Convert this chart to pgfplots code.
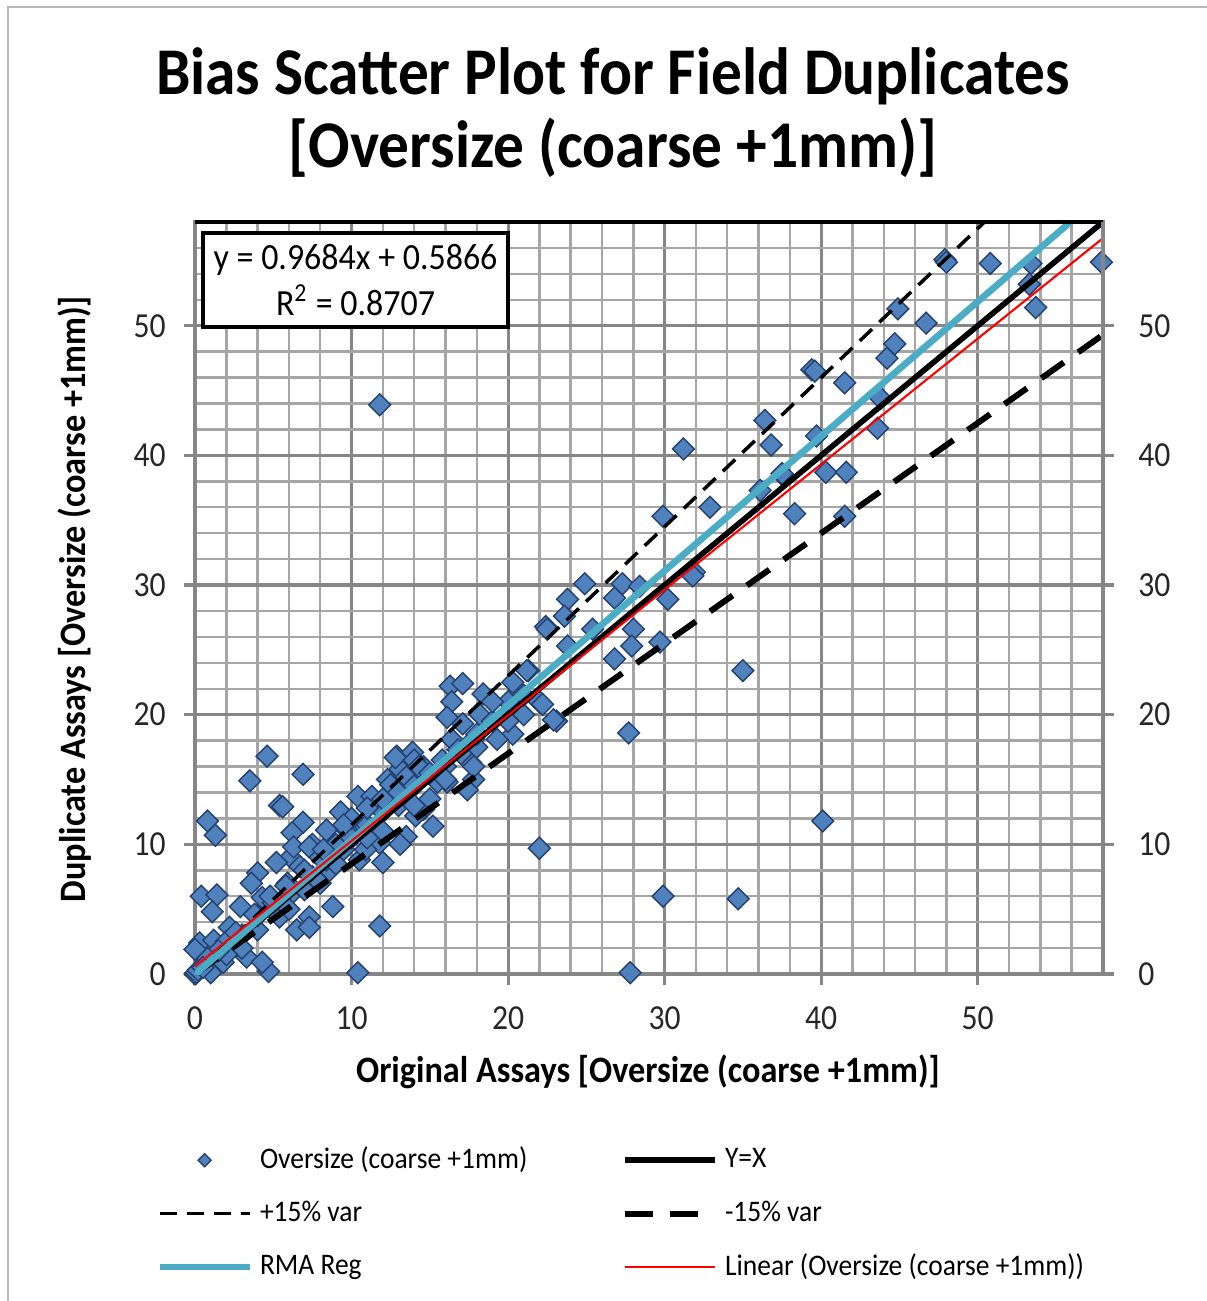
\documentclass[border=0pt]{standalone}
\usepackage{pgfplots}
\pgfplotsset{compat=1.18}
\usepackage{pgfplotstable}
\usepackage{fontspec}
\setmainfont{Carlito}
\definecolor{mk}{HTML}{4F81BD}
\definecolor{mkb}{HTML}{24406E}
\definecolor{rma}{HTML}{4BACC6}
\definecolor{gridc}{HTML}{A6A6A6}
\definecolor{gridm}{HTML}{868686}
\pgfplotsset{linelegend/.style={legend image code/.code={\draw[##1] (0cm,0cm) -- (0.9cm,0cm);}}}
\newcommand{\sx}[1]{\scalebox{0.92}[1]{#1}}
\newcommand{\tx}[1]{\scalebox{0.9}[1]{#1}}

\pgfplotstableread{
x y
11.8 43.9
4.6 16.8
3.5 14.9
6.9 15.4
5.4 13.0
0.8 11.8
1.3 10.7
10.4 0.1
11.8 3.7
4.7 0.2
27.8 0.1
29.9 6.0
34.7 5.8
40.1 11.8
22.0 9.7
27.7 18.6
35.0 23.4
31.2 40.5
36.4 42.7
36.8 40.8
39.4 46.6
39.6 46.5
39.7 41.5
40.3 38.7
41.6 38.7
41.5 45.6
41.5 35.3
38.3 35.5
37.6 38.4
37.5 38.6
36.1 37.3
32.9 36.0
29.9 35.3
43.6 42.1
43.8 44.4
44.2 47.5
44.7 48.6
44.9 51.3
46.7 50.2
47.9 55.1
48.0 54.9
50.8 54.8
53.4 54.8
53.3 53.2
53.7 51.4
57.9 54.9
31.9 31.0
31.8 30.7
24.9 30.1
23.8 28.9
23.6 27.6
22.4 26.8
22.5 26.6
27.3 30.1
26.8 29.0
28.4 29.9
30.2 28.9
28.0 26.6
27.9 25.3
29.7 25.6
26.8 24.3
23.8 25.3
25.4 26.6
21.3 23.4
20.3 22.5
22.0 21.0
23.1 19.5
22.9 19.6
22.2 20.8
20.3 18.5
19.3 18.1
21.2 23.4
16.3 22.2
17.1 22.4
16.4 21.0
18.4 21.6
16.1 19.8
17.1 19.3
18.2 20.0
17.8 18.1
16.4 18.1
12.9 16.8
13.9 17.1
14.6 16.0
13.1 15.8
15.8 16.5
17.6 16.3
17.8 15.0
16.1 14.8
12.3 15.0
12.8 16.7
14.0 16.5
13.5 15.2
14.3 16.0
15.5 14.8
10.4 13.7
11.3 13.7
12.5 14.6
9.3 12.5
5.6 12.9
6.9 11.7
6.2 10.9
8.4 11.1
7.5 10.0
14.6 12.7
15.2 11.4
14.1 12.2
13.5 10.6
13.1 10.0
11.8 10.1
12.0 8.6
17.4 14.2
17.8 16.0
16.8 17.3
10.5 11.1
9.7 11.1
6.1 9.0
6.7 8.3
8.6 8.0
4.0 7.8
5.2 8.6
3.6 7.0
0.4 6.0
1.4 6.1
1.1 4.8
2.9 5.2
4.3 5.9
5.9 7.0
6.3 9.8
7.3 9.8
7.5 7.5
8.8 5.2
7.3 4.4
5.4 4.4
4.0 3.4
2.2 3.6
0.3 2.4
0.0 1.9
1.2 2.6
3.3 1.3
4.3 0.9
1.8 0.9
1.0 0.1
6.5 3.4
7.3 3.6
8.4 8.8
9.5 9.6
10.5 8.8
10.9 9.6
0.0 0.0
0.1 0.1
0.2 0.3
2.0 2.5
3.0 3.0
5.0 5.5
6.0 6.0
7.0 6.5
8.0 9.0
9.0 8.5
10.0 10.5
11.0 11.5
12.0 12.5
13.0 13.0
14.0 14.5
15.0 15.5
16.0 16.0
18.0 17.5
19.0 19.5
20.0 21.0
21.0 20.0
9.0 10.0
8.0 7.0
6.0 5.0
4.0 4.5
3.0 2.0
2.0 1.5
10.0 12.0
11.0 10.5
12.0 11.0
14.0 13.0
15.0 13.5
19.0 21.0
20.0 19.5
21.0 21.5
18.0 18.5
17.0 17.0
16.0 15.0
13.0 14.0
12.0 13.5
11.0 12.8
9.5 11.5
8.2 9.6
7.0 8.0
5.8 6.8
4.8 6.0
3.8 4.6
2.6 3.2
1.5 1.8
0.8 1.2
0.5 0.5
}\dup

\begin{document}
\begin{tikzpicture}
\path[use as bounding box] (0,0) rectangle (12.07,13.01);
\draw[gray!55, line width=0.8pt] (0.08,0) -- (0.08,12.94) -- (12.07,12.94);
\node[font=\bfseries\fontsize{19}{23}\selectfont] at (6.13,12.25) {\sx{Bias Scatter Plot for Field Duplicates}};
\node[font=\bfseries\fontsize{19}{23}\selectfont] at (6.13,11.53) {\sx{[Oversize (coarse +1mm)]}};
\node[font=\bfseries\fontsize{10.6}{13}\selectfont] at (6.48,2.29) {\sx{Original Assays [Oversize (coarse +1mm)]}};
\node[font=\bfseries\fontsize{10.6}{13}\selectfont, rotate=90] at (0.75,7.02) {\sx{Duplicate Assays [Oversize (coarse +1mm)]}};

\begin{axis}[
  at={(1.95cm,3.27cm)}, anchor=origin,
  scale only axis, width=9.08cm, height=7.52cm,
  xmin=0, xmax=58, ymin=0, ymax=58,
  xtick={0,10,...,50}, ytick={0,10,...,50},
  xticklabels={\tx{0},\tx{10},\tx{20},\tx{30},\tx{40},\tx{50}},
  yticklabels={\tx{0},\tx{10},\tx{20},\tx{30},\tx{40},\tx{50}},
  minor xtick={2,4,...,56}, minor ytick={2,4,...,56},
  grid=both,
  major grid style={gridm, line width=0.9pt},
  minor grid style={gridc, line width=0.7pt},
  axis line style={gridm, line width=0.9pt},
  tick align=outside, xtick pos=bottom, ytick pos=left,
  major tick length=1.1mm, minor tick length=0pt,
  tick style={gridm, line width=0.9pt},
  tick label style={font=\fontsize{10}{12}\selectfont, text=black!85},
  xticklabel style={yshift=-0.9mm},
  yticklabel style={xshift=-0.6mm},
  clip mode=individual,
  legend columns=2,
  legend style={at={(-0.055,-0.21)}, anchor=north west, draw=none, fill=none,
    font=\fontsize{8.5}{10}\selectfont, row sep=1.3mm,
    /tikz/every even column/.append style={column sep=0pt}},
  legend cell align=left,
]
\addplot[only marks, mark=square*, mark size=2.2pt, mark options={rotate=45, fill=mk, draw=mkb, line width=0.4pt},
  legend image code/.code={\draw[##1, mark size=1.3pt] plot coordinates {(0.45cm,0cm)};}] table[x=x,y=y] {\dup};
\addlegendentry{\makebox[3.55cm][l]{\sx{Oversize (coarse +1mm)}}}
\addplot[black, line width=1.6pt, linelegend] coordinates {(0,0) (58,58)};
\addlegendentry{\sx{Y=X}}
\addplot[black, line width=1.0pt, dash pattern=on 1.7mm off 1.0mm, linelegend] coordinates {(0,0) (58,66.7)};
\addlegendentry{\makebox[3.55cm][l]{\sx{+15\% var}}}
\addplot[black, line width=1.7pt, dash pattern=on 2.75mm off 1.75mm, linelegend] coordinates {(0,0) (58,49.3)};
\addlegendentry{\sx{-15\% var}}
\addplot[rma, line width=1.9pt, linelegend] coordinates {(0,-0.03) (58,60.16)};
\addlegendentry{\makebox[3.55cm][l]{\sx{RMA Reg}}}
\addplot[red, line width=0.6pt, linelegend] coordinates {(0,0.5866) (58,56.754)};
\addlegendentry{\sx{Linear (Oversize (coarse +1mm))}}
\draw[black, line width=1.2pt] (axis cs:0,58) -- (axis cs:58,58);
\node[draw=black, line width=1pt, fill=white, align=center, minimum width=3.05cm, minimum height=0.94cm, inner sep=1pt, font=\fontsize{10.5}{13}\selectfont] at (rel axis cs:0.1768,0.923) {\sx{y = 0.9684x + 0.5866}\\\sx{R\textsuperscript{2} = 0.8707}};
\end{axis}
\begin{axis}[
  at={(1.95cm,3.27cm)}, anchor=origin,
  scale only axis, width=9.08cm, height=7.52cm,
  xmin=0, xmax=58, ymin=0, ymax=58,
  axis x line=none, axis y line*=right,
  ytick={0,10,...,50},
  yticklabels={\tx{0},\tx{10},\tx{20},\tx{30},\tx{40},\tx{50}},
  axis line style={gridm, line width=0.9pt},
  tick align=outside,
  major tick length=1.1mm,
  tick style={gridm, line width=0.9pt},
  tick label style={font=\fontsize{10}{12}\selectfont, text=black!85},
  yticklabel style={xshift=1.2mm},
]
\addplot[draw=none] coordinates {(0,0)};
\end{axis}
\end{tikzpicture}
\end{document}
